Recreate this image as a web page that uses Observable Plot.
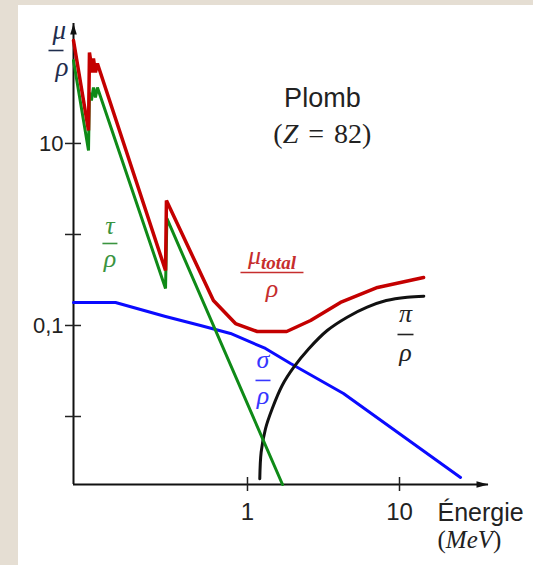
<!DOCTYPE html>
<html><head><meta charset="utf-8">
<script src="https://cdn.jsdelivr.net/npm/d3@7"></script>
<script src="https://cdn.jsdelivr.net/npm/@observablehq/plot@0.6"></script>
<style>
html,body{margin:0;padding:0;background:#e5ded3;width:533px;height:565px;overflow:hidden}
#chart{position:absolute;left:18px;top:5px;width:515px;height:560px;background:#fff}
</style></head><body><div id="chart"></div>
<script>
// ---- data (energy in MeV, mass attenuation coefficients) ----
const energyTotal = [0.0717, 0.090, 0.0913, 0.0955, 0.097, 0.100, 0.103, 0.289, 0.293, 0.597, 0.834, 1.16, 1.81, 2.60, 4.09, 7.17, 14.4];
const muTotal     = [135, 13.9, 100, 60.3, 85.9, 60.3, 75.7, 0.402, 2.36, 0.188, 0.105, 0.0859, 0.0859, 0.1135, 0.179, 0.262, 0.337];

const energyTau = [0.0717, 0.090, 0.0913, 0.0941, 0.097, 0.100, 0.103, 0.289, 0.295, 1.70];
const muTau     = [81.7, 8.38, 36.3, 29.7, 41.2, 32.0, 41.2, 0.255, 1.50, 0.00179];

const energySigma = [0.0717, 0.1355, 0.289, 0.491, 0.773, 1.313, 1.92, 4.28, 25.2];
const muSigma     = [0.179, 0.179, 0.1256, 0.100, 0.0817, 0.0559, 0.0382, 0.0179, 0.00214];

const energyPi = [1.205, 1.230, 1.313, 1.454, 1.691, 2.017, 2.531, 3.345, 4.527, 6.13, 8.18, 11.24, 14.45];
const muPi     = [0.00207, 0.00405, 0.00733, 0.01216, 0.0219, 0.0348, 0.0555, 0.0881, 0.1234, 0.159, 0.188, 0.2047, 0.210];

const energyTicks = [1, 10];
const energyTickLabels = ["1", "10"];
const muTicks = [10, 1, 0.1, 0.01];
const muTickLabels = ["10", "", "0,1", ""];

const energyDomain = [0.0717, 38.5];
const muDomain = [0.00179, 208];

// curve labels (fraction style): numerator, denominator, anchor position
const fracLabels = [
  {num: "τ", den: "ρ", E: 0.1245, mu: 0.796, color: "#3a943f", barW: 15, numDy: -18, denDy: 15},
  {num: "μtotal", den: "ρ", E: 1.449, mu: 0.382, color: "#c62d2d", barW: 63, numDy: -17, denDy: 16},
  {num: "σ", den: "ρ", E: 1.265, mu: 0.0249, color: "#3636ff", barW: 15, numDy: -21, denDy: 15},
  {num: "π", den: "ρ", E: 10.95, mu: 0.0796, color: "#222222", barW: 16, numDy: -21, denDy: 18}
];
const titleName = "Plomb";
const titleZ = "(Z = 82)";
const titleE = 3.11;
const titleMu = [31.2, 12.7];

// ---- helpers ----
const table = (xs, ys) => xs.map((x, i) => ({E: x, mu: ys[i]}));
const hbar = w => ({draw(ctx) { ctx.moveTo(-w / 2, 0); ctx.lineTo(w / 2, 0); }});
const arrowUp = {draw(ctx) { ctx.moveTo(0, 0); ctx.lineTo(3.3, 11); ctx.lineTo(-3.3, 11); ctx.closePath(); }};
const arrowRight = {draw(ctx) { ctx.moveTo(0, 0); ctx.lineTo(-12, -3.3); ctx.lineTo(-12, 3.3); ctx.closePath(); }};
const serif = "'Liberation Serif', 'DejaVu Serif', serif";
const sans = "'Liberation Sans', Arial, sans-serif";

const fracMarks = fracLabels.flatMap(l => [
  Plot.text([l], {x: "E", y: "mu", text: "num", dy: l.numDy, fill: l.color, fontFamily: serif, fontStyle: "italic", fontSize: 26}),
  Plot.dot([l], {x: "E", y: "mu", symbol: hbar(l.barW), stroke: l.color, strokeWidth: 1.6, fill: "none"}),
  Plot.text([l], {x: "E", y: "mu", text: "den", dy: l.denDy, fill: l.color, fontFamily: serif, fontStyle: "italic", fontSize: 26})
]);

const chart = Plot.plot({
  width: 515, height: 560,
  marginLeft: 55, marginRight: 45, marginTop: 18, marginBottom: 81,
  style: {background: "transparent", fontFamily: sans, overflow: "visible"},
  x: {type: "log", domain: energyDomain},
  y: {type: "log", domain: muDomain},
  marks: [
    // axes
    Plot.ruleX([energyDomain[0]], {y1: muDomain[0], y2: muDomain[1], stroke: "#111", strokeWidth: 2}),
    Plot.ruleY([muDomain[0]], {x1: energyDomain[0], x2: energyDomain[1], stroke: "#111", strokeWidth: 2}),
    Plot.dot([{E: energyDomain[0], mu: muDomain[1]}], {x: "E", y: "mu", symbol: arrowUp, fill: "#111", stroke: "none"}),
    Plot.dot([{E: energyDomain[1], mu: muDomain[0]}], {x: "E", y: "mu", symbol: arrowRight, fill: "#111", stroke: "none"}),
    Plot.axisY({ticks: muTicks, tickFormat: d => muTickLabels[muTicks.indexOf(d)], tickSize: 16, dx: 8, tickPadding: 2,
      fontSize: 22, label: null, color: "#222", strokeWidth: 1.5}),
    Plot.axisX({ticks: energyTicks, tickFormat: d => energyTickLabels[energyTicks.indexOf(d)], tickSize: 14, dy: -7, tickPadding: 11,
      fontSize: 24, label: null, color: "#222", strokeWidth: 1.5}),
    // curves
    Plot.line(table(energySigma, muSigma), {x: "E", y: "mu", stroke: "#0b0bff", strokeWidth: 3}),
    Plot.line(table(energyPi, muPi), {x: "E", y: "mu", stroke: "#111", strokeWidth: 3, curve: "catmull-rom"}),
    Plot.line(table(energyTau, muTau), {x: "E", y: "mu", stroke: "#0f8a17", strokeWidth: 3, strokeLinejoin: "miter"}),
    Plot.line(table(energyTotal, muTotal), {x: "E", y: "mu", stroke: "#c40000", strokeWidth: 3.5, strokeLinejoin: "miter"}),
    // labels
    ...fracMarks,
    Plot.text([titleName], {x: () => titleE, y: () => titleMu[0], fontFamily: sans, fontSize: 27, fill: "#222"}),
    Plot.text([titleZ], {x: () => titleE, y: () => titleMu[1], fontFamily: serif, fontSize: 28, fill: "#222"}),
    // axis labels
    Plot.text(["μ"], {frameAnchor: "top-left", lineAnchor: "middle", dx: -21, dy: 7, fontFamily: serif, fontStyle: "italic", fontSize: 27, fill: "#1f2d4d"}),
    Plot.dot([0], {frameAnchor: "top-left", dx: -17.5, dy: 27, symbol: hbar(15), stroke: "#1f2d4d", strokeWidth: 1.6, fill: "none"}),
    Plot.text(["ρ"], {frameAnchor: "top-left", lineAnchor: "middle", dx: -18, dy: 44, fontFamily: serif, fontStyle: "italic", fontSize: 27, fill: "#1f2d4d"}),
    Plot.text(["Énergie"], {frameAnchor: "bottom-right", lineAnchor: "middle", dx: -51, dy: 28, textAnchor: "start", fontSize: 25, fill: "#222"}),
    Plot.text(["(MeV)"], {frameAnchor: "bottom-right", lineAnchor: "middle", dx: -51, dy: 55, textAnchor: "start", fontFamily: serif, fontSize: 25, fill: "#222"})
  ]
});

// rich text: subscript and italics
d3.select(chart).selectAll("text").each(function() {
  const t = this.textContent;
  if (t === "μtotal") {
    this.innerHTML = 'μ<tspan font-size="19" font-weight="bold" dy="5">total</tspan>';
  } else if (t === "(Z = 82)") {
    this.innerHTML = '(<tspan font-style="italic">Z</tspan> <tspan dx="3">=</tspan> <tspan dx="3">82)</tspan>';
  } else if (t === "(MeV)") {
    this.innerHTML = '(<tspan font-style="italic">MeV</tspan>)';
  }
});
document.getElementById("chart").appendChild(chart);
</script></body></html>
